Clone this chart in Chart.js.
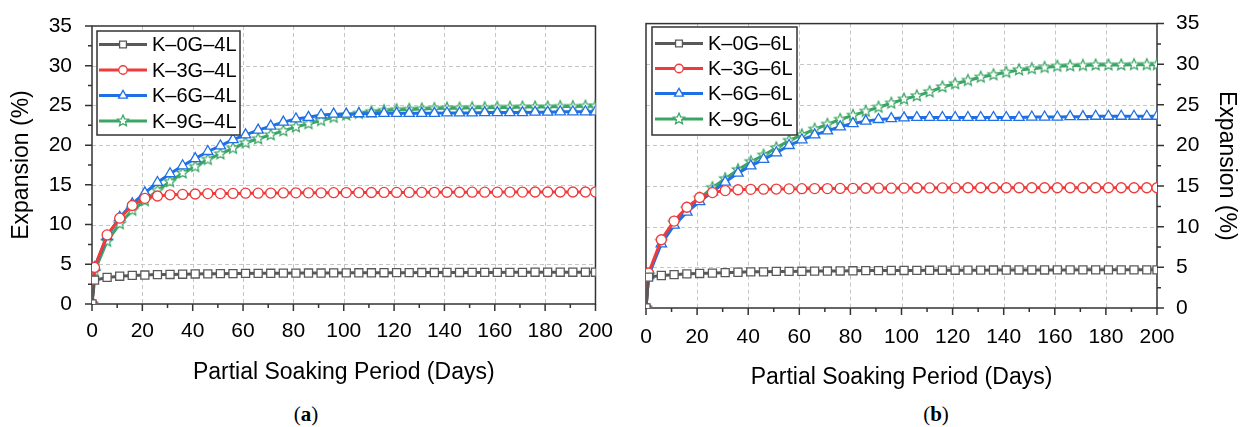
<!DOCTYPE html>
<html>
<head>
<meta charset="utf-8">
<script src="https://cdn.jsdelivr.net/npm/chart.js@4.4.0/dist/chart.umd.min.js"></script>
<style>
body { margin: 0; background: #fff; width: 1246px; height: 427px; position: relative; overflow: hidden; }
canvas { position: absolute; top: 0; }
#chartA { left: 0; }
#chartB { left: 626px; }
.cap { position: absolute; top: 402px; font-family: 'Liberation Serif', serif; font-size: 21px; transform: translateX(-50%); color: #000; }
</style>
</head>
<body>
<canvas id="chartA" width="620" height="392"></canvas>
<canvas id="chartB" width="620" height="392"></canvas>
<div class="cap" style="left:306px">(<b>a</b>)</div>
<div class="cap" style="left:936px">(<b>b</b>)</div>
<script>
// 浸泡天數
const days = [0, 1, 6, 11, 16, 21, 26, 31, 36, 41,
  46, 51, 56, 61, 66, 71, 76, 81, 86, 91,
  96, 101, 106, 111, 116, 121, 126, 131, 136, 141,
  146, 151, 156, 161, 166, 171, 176, 181, 186, 191,
  196, 200];

// (a) 4L
const k0g4l = [0, 3.0, 3.35, 3.5, 3.6, 3.65, 3.7, 3.72, 3.75, 3.78,
  3.8, 3.82, 3.83, 3.85, 3.86, 3.87, 3.88, 3.89, 3.9, 3.9,
  3.91, 3.92, 3.93, 3.93, 3.94, 3.95, 3.95, 3.96, 3.96, 3.97,
  3.97, 3.98, 3.98, 3.98, 3.99, 3.99, 4.0, 4.0, 4.0, 4.0,
  4.0, 4.0];
const k3g4l = [0, 4.6, 8.7, 10.8, 12.4, 13.3, 13.6, 13.75, 13.8, 13.85,
  13.9, 13.9, 13.92, 13.95, 13.95, 13.97, 13.98, 14.0, 14.0, 14.0,
  14.02, 14.03, 14.03, 14.04, 14.05, 14.05, 14.05, 14.06, 14.06, 14.07,
  14.07, 14.08, 14.08, 14.08, 14.09, 14.09, 14.1, 14.1, 14.1, 14.1,
  14.1, 14.1];
const k6g4l = [0, 4.6, 8.5, 10.9, 12.6, 14.0, 15.3, 16.4, 17.4, 18.3,
  19.2, 19.9, 20.7, 21.3, 21.9, 22.4, 22.9, 23.3, 23.5, 23.8,
  23.9, 23.9, 23.95, 23.95, 24.0, 24.0, 24.0, 24.0, 24.0, 24.05,
  24.05, 24.05, 24.1, 24.1, 24.1, 24.1, 24.15, 24.15, 24.2, 24.2,
  24.2, 24.2];
const k9g4l = [0, 4.1, 7.9, 10.1, 11.8, 13.0, 14.3, 15.4, 16.5, 17.3,
  18.2, 18.9, 19.6, 20.3, 20.8, 21.3, 21.8, 22.3, 22.7, 23.1,
  23.5, 23.8, 24.0, 24.2, 24.35, 24.45, 24.5, 24.55, 24.6, 24.65,
  24.65, 24.7, 24.7, 24.75, 24.75, 24.8, 24.8, 24.8, 24.85, 24.85,
  24.9, 24.9];

// (b) 6L
const k0g6l = [0, 3.8, 4.0, 4.1, 4.2, 4.25, 4.3, 4.35, 4.4, 4.45,
  4.45, 4.5, 4.5, 4.52, 4.54, 4.55, 4.56, 4.58, 4.6, 4.6,
  4.62, 4.62, 4.63, 4.64, 4.65, 4.65, 4.66, 4.66, 4.67, 4.67,
  4.68, 4.68, 4.68, 4.69, 4.69, 4.7, 4.7, 4.7, 4.7, 4.7,
  4.7, 4.7];
const k3g6l = [0, 4.3, 8.4, 10.7, 12.4, 13.6, 14.2, 14.45, 14.55, 14.6,
  14.62, 14.64, 14.66, 14.68, 14.7, 14.7, 14.72, 14.73, 14.74, 14.75,
  14.75, 14.76, 14.77, 14.78, 14.78, 14.79, 14.8, 14.8, 14.8, 14.8,
  14.8, 14.8, 14.8, 14.8, 14.8, 14.8, 14.8, 14.8, 14.8, 14.8,
  14.8, 14.8];
const k6g6l = [0, 4.0, 7.9, 10.2, 11.8, 13.1, 14.3, 15.5, 16.6, 17.5,
  18.3, 19.1, 20.0, 20.7, 21.3, 21.8, 22.3, 22.7, 23.0, 23.2,
  23.3, 23.4, 23.45, 23.45, 23.45, 23.45, 23.45, 23.45, 23.45, 23.45,
  23.45, 23.5, 23.5, 23.5, 23.55, 23.55, 23.6, 23.6, 23.6, 23.6,
  23.6, 23.6];
const k9g6l = [0, 4.05, 8.2, 10.5, 12.2, 13.5, 14.8, 15.9, 17.0, 18.0,
  18.8, 19.7, 20.6, 21.3, 22.0, 22.6, 23.2, 23.7, 24.2, 24.7,
  25.2, 25.7, 26.1, 26.6, 27.2, 27.6, 28.0, 28.4, 28.7, 29.0,
  29.3, 29.45, 29.6, 29.75, 29.8, 29.85, 29.9, 29.9, 29.9, 29.95,
  29.95, 29.95];

const FONT = "'Liberation Sans', Arial, sans-serif";
const GRAY = '#595959', RED = '#ef3b3b', BLUE = '#1f6fe5', GREEN = '#3aa564';

// 五角星標記
function starImage(color, r) {
  const size = Math.ceil(r * 2 + 4);
  const c = document.createElement('canvas');
  c.width = c.height = size;
  const g = c.getContext('2d');
  g.beginPath();
  for (let i = 0; i < 10; i++) {
    const rr = i % 2 ? r * 0.45 : r;
    const a = -Math.PI / 2 + i * Math.PI / 5;
    g.lineTo(size / 2 + rr * Math.cos(a), size / 2 + rr * Math.sin(a));
  }
  g.closePath();
  g.fillStyle = '#fff';
  g.fill();
  g.strokeStyle = color;
  g.lineWidth = 1.2;
  g.stroke();
  return c;
}

function series(label, values, color, style, radius) {
  return {
    label: label,
    data: days.map((d, i) => ({ x: d, y: values[i] })),
    borderColor: color,
    borderWidth: 3,
    pointStyle: style,
    pointRadius: radius,
    pointBackgroundColor: '#fff',
    pointBorderColor: color,
    pointBorderWidth: 1.3,
    tension: 0,
    clip: 0
  };
}

// 格線、外框與刻度
const axesFrame = {
  id: 'axesFrame',
  beforeDatasetsDraw(chart) {
    const { ctx, chartArea: a, scales: { x, y } } = chart;
    ctx.save();
    ctx.strokeStyle = '#c6c6c6';
    ctx.lineWidth = 1;
    ctx.setLineDash([4, 3]);
    ctx.beginPath();
    x.ticks.forEach(t => {
      if (t.value % 20 === 0 && t.value > x.min && t.value < x.max) {
        const px = Math.round(x.getPixelForValue(t.value)) + 0.5;
        ctx.moveTo(px, a.top);
        ctx.lineTo(px, a.bottom);
      }
    });
    y.ticks.forEach(t => {
      if (t.value % 5 === 0 && t.value > y.min && t.value < y.max) {
        const py = Math.round(y.getPixelForValue(t.value)) + 0.5;
        ctx.moveTo(a.left, py);
        ctx.lineTo(a.right, py);
      }
    });
    ctx.stroke();
    ctx.setLineDash([]);
    ctx.strokeStyle = '#333';
    ctx.lineWidth = 1.5;
    ctx.strokeRect(a.left, a.top, a.right - a.left, a.bottom - a.top);
    ctx.beginPath();
    x.ticks.forEach(t => {
      const px = x.getPixelForValue(t.value);
      const len = t.value % 20 === 0 ? 7 : 4;
      ctx.moveTo(px, a.bottom);
      ctx.lineTo(px, a.bottom + len);
    });
    const side = y.position === 'right' ? 1 : -1;
    const edge = side > 0 ? a.right : a.left;
    y.ticks.forEach(t => {
      const py = y.getPixelForValue(t.value);
      const len = t.value % 5 === 0 ? 7 : 4;
      ctx.moveTo(edge, py);
      ctx.lineTo(edge + side * len, py);
    });
    ctx.stroke();
    ctx.restore();
  }
};

// 圖內圖例
const boxLegend = {
  id: 'boxLegend',
  afterDraw(chart, args, o) {
    const ctx = chart.ctx;
    ctx.save();
    ctx.fillStyle = '#fff';
    ctx.fillRect(o.x, o.y, o.w, o.h);
    ctx.strokeStyle = '#333';
    ctx.lineWidth = 1.5;
    ctx.strokeRect(o.x, o.y, o.w, o.h);
    chart.data.datasets.forEach((ds, i) => {
      const cy = o.rows[i];
      const x0 = o.x + o.line[0], x1 = o.x + o.line[1];
      ctx.strokeStyle = ds.borderColor;
      ctx.lineWidth = ds.borderWidth;
      ctx.beginPath();
      ctx.moveTo(x0, cy);
      ctx.lineTo(x1, cy);
      ctx.stroke();
      ctx.fillStyle = '#fff';
      ctx.strokeStyle = ds.pointBorderColor;
      ctx.lineWidth = ds.pointBorderWidth;
      Chart.helpers.drawPoint(ctx, {
        pointStyle: ds.pointStyle, radius: ds.pointRadius * 0.85,
        rotation: 0, borderWidth: ds.pointBorderWidth
      }, (x0 + x1) / 2, cy);
      ctx.fillStyle = '#000';
      ctx.font = '20px ' + FONT;
      ctx.textBaseline = 'middle';
      ctx.fillText(ds.label, o.x + o.text, cy + 1);
    });
    ctx.restore();
  }
};

function makeChart(id, datasets, s) {
  return new Chart(document.getElementById(id), {
    type: 'line',
    data: { datasets: datasets },
    plugins: [axesFrame, boxLegend],
    options: {
      responsive: false,
      animation: false,
      layout: { padding: s.padding },
      plugins: {
        legend: { display: false },
        tooltip: { enabled: false },
        boxLegend: s.legend
      },
      scales: {
        x: {
          type: 'linear', min: 0, max: 200,
          grid: { display: false },
          border: { display: false },
          ticks: {
            stepSize: 10, autoSkip: false, maxRotation: 0, padding: s.xTickPad,
            color: '#000', font: { family: FONT, size: 21 },
            callback: v => (v % 20 === 0 ? v : '')
          },
          title: {
            display: true, text: 'Partial Soaking Period (Days)', color: '#000',
            font: { family: FONT, size: 23 }, padding: { top: 0, bottom: s.xTitlePad }
          },
          afterFit: sc => { sc.height = s.xHeight; }
        },
        y: {
          position: s.yPos, min: 0, max: 35,
          grid: { display: false },
          border: { display: false },
          ticks: {
            stepSize: 2.5, autoSkip: false, padding: s.yTickPad,
            color: '#000', font: { family: FONT, size: 21 },
            callback: v => (v % 5 === 0 ? v : '')
          },
          title: {
            display: true, text: 'Expansion (%)', color: '#000',
            font: { family: FONT, size: 23 }, padding: { top: s.yTitlePad, bottom: 0 }
          },
          afterFit: sc => { sc.width = s.yWidth; }
        }
      }
    }
  });
}

makeChart('chartA', [
  series('K–0G–4L', k0g4l, GRAY, 'rect', 5.7),
  series('K–3G–4L', k3g4l, RED, 'circle', 5),
  series('K–6G–4L', k6g4l, BLUE, 'triangle', 6),
  series('K–9G–4L', k9g4l, GREEN, starImage(GREEN, 6), 6)
], {
  padding: { top: 26, right: 24, bottom: 0, left: 0 },
  yPos: 'left', yWidth: 92, xHeight: 88,
  xTickPad: 7, yTickPad: 12, xTitlePad: 6, yTitlePad: 8,
  legend: { x: 97, y: 31, w: 143, h: 104, rows: [44.5, 70, 95.5, 121], line: [2, 50], text: 55 }
});

makeChart('chartB', [
  series('K–0G–6L', k0g6l, GRAY, 'rect', 5.7),
  series('K–3G–6L', k3g6l, RED, 'circle', 5),
  series('K–6G–6L', k6g6l, BLUE, 'triangle', 6),
  series('K–9G–6L', k9g6l, GREEN, starImage(GREEN, 6), 6)
], {
  padding: { top: 23, right: 0, bottom: 0, left: 20 },
  yPos: 'right', yWidth: 89, xHeight: 84,
  xTickPad: 9, yTickPad: 11, xTitlePad: 1, yTitlePad: 6,
  legend: { x: 26, y: 27, w: 145, h: 108, rows: [43.5, 68.5, 93.5, 119], line: [3, 51], text: 56 }
});
</script>
</body>
</html>
